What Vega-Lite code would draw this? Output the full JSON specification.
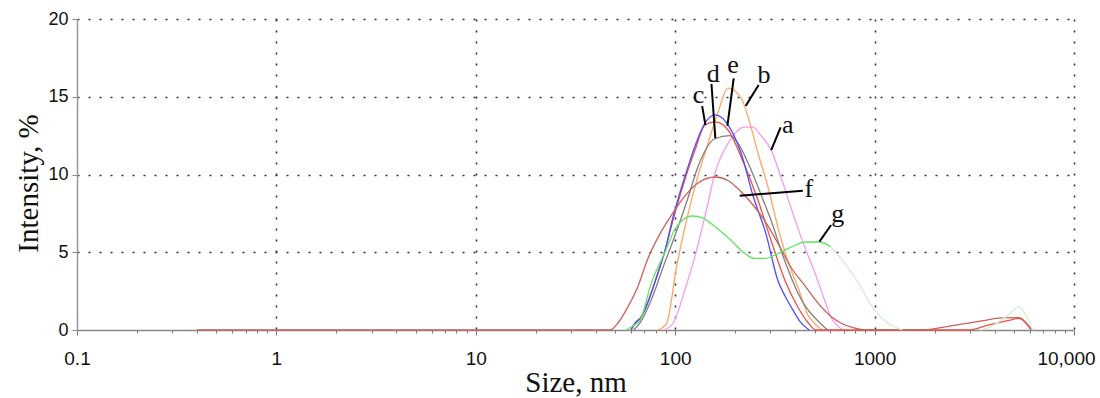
{
  "$schema": "https://vega.github.io/schema/vega-lite/v6.json",
  "width": 997,
  "height": 311,
  "autosize": {"type": "none"},
  "padding": {"left": 77, "top": 19, "right": 26, "bottom": 68},
  "background": "white",
  "config": {"view": {"stroke": null}},
  "datasets": {
    "curves": [
      {"sample": "a", "size": 88, "intensity": 0},
      {"sample": "a", "size": 97.7, "intensity": 0.45},
      {"sample": "a", "size": 112, "intensity": 2.6},
      {"sample": "a", "size": 126, "intensity": 4.8},
      {"sample": "a", "size": 141, "intensity": 7.3},
      {"sample": "a", "size": 160, "intensity": 10.3},
      {"sample": "a", "size": 184, "intensity": 12.0},
      {"sample": "a", "size": 205, "intensity": 12.8},
      {"sample": "a", "size": 219, "intensity": 13.05},
      {"sample": "a", "size": 245, "intensity": 13.05},
      {"sample": "a", "size": 269, "intensity": 12.5},
      {"sample": "a", "size": 302, "intensity": 11.6},
      {"sample": "a", "size": 339, "intensity": 9.84},
      {"sample": "a", "size": 380, "intensity": 7.9},
      {"sample": "a", "size": 447, "intensity": 5.3},
      {"sample": "a", "size": 501, "intensity": 3.7},
      {"sample": "a", "size": 562, "intensity": 1.9},
      {"sample": "a", "size": 603, "intensity": 0.84},
      {"sample": "a", "size": 650, "intensity": 0.3},
      {"sample": "a", "size": 692, "intensity": 0},

      {"sample": "b", "size": 82, "intensity": 0},
      {"sample": "b", "size": 90.6, "intensity": 0.43},
      {"sample": "b", "size": 101.6, "intensity": 4.07},
      {"sample": "b", "size": 114, "intensity": 7.07},
      {"sample": "b", "size": 130, "intensity": 9.9},
      {"sample": "b", "size": 146, "intensity": 12.0},
      {"sample": "b", "size": 164, "intensity": 14.0},
      {"sample": "b", "size": 184, "intensity": 15.56},
      {"sample": "b", "size": 214, "intensity": 14.92},
      {"sample": "b", "size": 240, "intensity": 13.05},
      {"sample": "b", "size": 260, "intensity": 11.38},
      {"sample": "b", "size": 292, "intensity": 9.2},
      {"sample": "b", "size": 316, "intensity": 7.4},
      {"sample": "b", "size": 327, "intensity": 6.62},
      {"sample": "b", "size": 366, "intensity": 4.5},
      {"sample": "b", "size": 385, "intensity": 3.7},
      {"sample": "b", "size": 412, "intensity": 2.77},
      {"sample": "b", "size": 462, "intensity": 1.0},
      {"sample": "b", "size": 501, "intensity": 0.4},
      {"sample": "b", "size": 549, "intensity": 0},

      {"sample": "c", "size": 60, "intensity": 0},
      {"sample": "c", "size": 63, "intensity": 0.45},
      {"sample": "c", "size": 67, "intensity": 0.8},
      {"sample": "c", "size": 82, "intensity": 3.7},
      {"sample": "c", "size": 88.4, "intensity": 5.0},
      {"sample": "c", "size": 97.7, "intensity": 7.1},
      {"sample": "c", "size": 116, "intensity": 10.3},
      {"sample": "c", "size": 126, "intensity": 11.6},
      {"sample": "c", "size": 141, "intensity": 13.18},
      {"sample": "c", "size": 158.5, "intensity": 13.38},
      {"sample": "c", "size": 184, "intensity": 12.86},
      {"sample": "c", "size": 221, "intensity": 10.7},
      {"sample": "c", "size": 260, "intensity": 8.36},
      {"sample": "c", "size": 302, "intensity": 5.79},
      {"sample": "c", "size": 355, "intensity": 3.2},
      {"sample": "c", "size": 412, "intensity": 1.48},
      {"sample": "c", "size": 462, "intensity": 0.5},
      {"sample": "c", "size": 507, "intensity": 0},
      {"sample": "c", "size": 2900, "intensity": 0},
      {"sample": "c", "size": 3800, "intensity": 0.35},
      {"sample": "c", "size": 4786, "intensity": 0.64},
      {"sample": "c", "size": 5300, "intensity": 0.75},
      {"sample": "c", "size": 6100, "intensity": 0},

      {"sample": "d", "size": 62, "intensity": 0},
      {"sample": "d", "size": 67, "intensity": 0.5},
      {"sample": "d", "size": 75.8, "intensity": 1.93},
      {"sample": "d", "size": 88.4, "intensity": 4.29},
      {"sample": "d", "size": 99.3, "intensity": 6.0},
      {"sample": "d", "size": 115, "intensity": 8.36},
      {"sample": "d", "size": 130, "intensity": 10.5},
      {"sample": "d", "size": 158, "intensity": 12.3},
      {"sample": "d", "size": 188, "intensity": 12.5},
      {"sample": "d", "size": 206, "intensity": 12.03},
      {"sample": "d", "size": 232, "intensity": 10.74},
      {"sample": "d", "size": 276, "intensity": 8.36},
      {"sample": "d", "size": 302, "intensity": 7.07},
      {"sample": "d", "size": 353, "intensity": 4.5},
      {"sample": "d", "size": 412, "intensity": 2.4},
      {"sample": "d", "size": 446, "intensity": 1.6},
      {"sample": "d", "size": 503, "intensity": 0.77},
      {"sample": "d", "size": 537, "intensity": 0.4},
      {"sample": "d", "size": 580, "intensity": 0},

      {"sample": "e", "size": 60, "intensity": 0},
      {"sample": "e", "size": 63, "intensity": 0.45},
      {"sample": "e", "size": 67, "intensity": 0.77},
      {"sample": "e", "size": 82, "intensity": 3.67},
      {"sample": "e", "size": 88.4, "intensity": 5.0},
      {"sample": "e", "size": 97.7, "intensity": 7.3},
      {"sample": "e", "size": 116, "intensity": 10.5},
      {"sample": "e", "size": 125.5, "intensity": 11.8},
      {"sample": "e", "size": 141, "intensity": 13.3},
      {"sample": "e", "size": 158.5, "intensity": 13.83},
      {"sample": "e", "size": 188, "intensity": 13.0},
      {"sample": "e", "size": 214, "intensity": 11.38},
      {"sample": "e", "size": 246, "intensity": 8.6},
      {"sample": "e", "size": 285, "intensity": 6.2},
      {"sample": "e", "size": 327, "intensity": 3.2},
      {"sample": "e", "size": 355, "intensity": 2.2},
      {"sample": "e", "size": 397, "intensity": 1.1},
      {"sample": "e", "size": 425, "intensity": 0.5},
      {"sample": "e", "size": 470, "intensity": 0},

      {"sample": "f", "size": 0.4, "intensity": 0},
      {"sample": "f", "size": 47, "intensity": 0},
      {"sample": "f", "size": 52, "intensity": 0.5},
      {"sample": "f", "size": 58, "intensity": 1.5},
      {"sample": "f", "size": 65, "intensity": 2.8},
      {"sample": "f", "size": 73, "intensity": 4.6},
      {"sample": "f", "size": 84, "intensity": 6.2},
      {"sample": "f", "size": 96, "intensity": 7.4},
      {"sample": "f", "size": 110, "intensity": 8.5},
      {"sample": "f", "size": 130, "intensity": 9.45},
      {"sample": "f", "size": 158.5, "intensity": 9.84},
      {"sample": "f", "size": 185, "intensity": 9.6},
      {"sample": "f", "size": 206, "intensity": 9.1},
      {"sample": "f", "size": 240, "intensity": 8.2},
      {"sample": "f", "size": 282, "intensity": 7.0},
      {"sample": "f", "size": 330, "intensity": 5.5},
      {"sample": "f", "size": 380, "intensity": 4.05},
      {"sample": "f", "size": 450, "intensity": 2.8},
      {"sample": "f", "size": 519, "intensity": 1.74},
      {"sample": "f", "size": 600, "intensity": 0.9},
      {"sample": "f", "size": 676, "intensity": 0.45},
      {"sample": "f", "size": 780, "intensity": 0.15},
      {"sample": "f", "size": 891, "intensity": 0},
      {"sample": "f", "size": 1700, "intensity": 0},
      {"sample": "f", "size": 2500, "intensity": 0.3},
      {"sample": "f", "size": 3500, "intensity": 0.6},
      {"sample": "f", "size": 4300, "intensity": 0.78},
      {"sample": "f", "size": 5300, "intensity": 0.8},
      {"sample": "f", "size": 5900, "intensity": 0.3},
      {"sample": "f", "size": 6200, "intensity": 0},

      {"sample": "g", "size": 57, "intensity": 0},
      {"sample": "g", "size": 62, "intensity": 0.3},
      {"sample": "g", "size": 66.8, "intensity": 0.64},
      {"sample": "g", "size": 75.8, "intensity": 3.0},
      {"sample": "g", "size": 88.4, "intensity": 4.93},
      {"sample": "g", "size": 99.3, "intensity": 6.43},
      {"sample": "g", "size": 110, "intensity": 7.1},
      {"sample": "g", "size": 121, "intensity": 7.33},
      {"sample": "g", "size": 135, "intensity": 7.25},
      {"sample": "g", "size": 158.5, "intensity": 6.64},
      {"sample": "g", "size": 190, "intensity": 5.79},
      {"sample": "g", "size": 223, "intensity": 4.93},
      {"sample": "g", "size": 250, "intensity": 4.6},
      {"sample": "g", "size": 282, "intensity": 4.6},
      {"sample": "g", "size": 320, "intensity": 4.85},
      {"sample": "g", "size": 355, "intensity": 5.14},
      {"sample": "g", "size": 400, "intensity": 5.45},
      {"sample": "g", "size": 447, "intensity": 5.66},
      {"sample": "g", "size": 531, "intensity": 5.66},
      {"sample": "g", "size": 603, "intensity": 5.34},

      {"sample": "g2", "size": 603, "intensity": 5.34},
      {"sample": "g2", "size": 708, "intensity": 4.3},
      {"sample": "g2", "size": 813, "intensity": 3.2},
      {"sample": "g2", "size": 1000, "intensity": 1.29},
      {"sample": "g2", "size": 1161, "intensity": 0.45},
      {"sample": "g2", "size": 1380, "intensity": 0},

      {"sample": "g3", "size": 3400, "intensity": 0},
      {"sample": "g3", "size": 3800, "intensity": 0.2},
      {"sample": "g3", "size": 4677, "intensity": 0.96},
      {"sample": "g3", "size": 5297, "intensity": 1.48},
      {"sample": "g3", "size": 5800, "intensity": 0.84},
      {"sample": "g3", "size": 6200, "intensity": 0}
    ],
    "labels": [
      {"label": "a", "size": 367, "intensity": 12.67},
      {"label": "b", "size": 278.6, "intensity": 15.88},
      {"label": "c", "size": 131, "intensity": 14.6},
      {"label": "d", "size": 155, "intensity": 15.95},
      {"label": "e", "size": 195, "intensity": 16.53},
      {"label": "f", "size": 468, "intensity": 8.55},
      {"label": "g", "size": 653, "intensity": 6.95}
    ],
    "leaders": [
      {"label": "a", "size": 337.8, "intensity": 13.03, "size2": 303, "intensity2": 11.57},
      {"label": "b", "size": 262, "intensity": 15.76, "size2": 225.6, "intensity2": 14.4},
      {"label": "c", "size": 136.5, "intensity": 14.4, "size2": 141.8, "intensity2": 13.18},
      {"label": "d", "size": 152, "intensity": 15.82, "size2": 159, "intensity2": 12.33},
      {"label": "e", "size": 196.5, "intensity": 16.18, "size2": 182.7, "intensity2": 13.12},
      {"label": "f", "size": 436.5, "intensity": 8.96, "size2": 210.5, "intensity2": 8.64},
      {"label": "g", "size": 605, "intensity": 6.75, "size2": 529, "intensity2": 5.68}
    ]
  },
  "layer": [
    {
      "data": {"name": "curves"},
      "mark": {"type": "line", "strokeWidth": 1.3, "interpolate": "monotone"},
      "encoding": {
        "x": {
          "field": "size", "type": "quantitative",
          "scale": {"type": "log", "domain": [0.1, 10000], "nice": false},
          "axis": {
            "title": "Size, nm",
            "titleFont": "Liberation Serif", "titleFontSize": 29, "titleFontWeight": "normal", "titleColor": "#111",
            "titleBaseline": "alphabetic", "titleY": 61,
            "values": [0.1,0.2,0.3,0.4,0.5,0.6,0.7,0.8,0.9,1,2,3,4,5,6,7,8,9,10,20,30,40,50,60,70,80,90,100,200,300,400,500,600,700,800,900,1000,2000,3000,4000,5000,6000,7000,8000,9000,10000],
            "labelExpr": "abs(log(datum.value)/LN10 - round(log(datum.value)/LN10)) < 0.001 ? (datum.value >= 9999 ? '10,000' : datum.value < 0.5 ? '0.1' : format(datum.value, 'd')) : ''",
            "labelOverlap": false, "labelFlush": false,
            "labelOffset": {"condition": {"test": "datum.value >= 9999", "value": -8}, "value": 0},
            "labelFont": "Liberation Sans", "labelFontSize": 19, "labelColor": "#111", "labelPadding": 14,
            "domainColor": "#888", "domainWidth": 1.5,
            "tickColor": "#777", "tickWidth": 1,
            "tickSize": {"condition": {"test": "abs(log(datum.value)/LN10 - round(log(datum.value)/LN10)) < 0.001", "value": 5}, "value": 3},
            "grid": true, "gridColor": "#333", "gridWidth": 1.6, "gridDash": [2, 9],
            "gridOpacity": {"condition": {"test": "abs(log(datum.value)/LN10 - round(log(datum.value)/LN10)) < 0.001 && datum.value > 0.5", "value": 1}, "value": 0}
          }
        },
        "y": {
          "field": "intensity", "type": "quantitative",
          "scale": {"domain": [0, 20], "nice": false},
          "axis": {
            "title": "Intensity, %",
            "titleFont": "Liberation Serif", "titleFontSize": 29, "titleFontWeight": "normal", "titleColor": "#111",
            "titleBaseline": "alphabetic", "titleX": -40, "titleY": 164, "titleAngle": -90,
            "values": [0, 2.5, 5, 7.5, 10, 12.5, 15, 17.5, 20],
            "labelExpr": "datum.value % 5 == 0 ? format(datum.value, 'd') : ''",
            "labelFont": "Liberation Sans", "labelFontSize": 18, "labelColor": "#111", "labelPadding": 4,
            "domainColor": "#999", "domainWidth": 1.5,
            "tickColor": "#888", "tickWidth": 1,
            "tickSize": {"condition": {"test": "datum.value % 5 == 0", "value": 5}, "value": 4},
            "grid": true, "gridColor": "#333", "gridWidth": 1.6, "gridDash": [2, 9],
            "gridOpacity": {"condition": {"test": "datum.value % 5 == 0 && datum.value > 0", "value": 1}, "value": 0}
          }
        },
        "color": {
          "field": "sample", "type": "nominal", "legend": null,
          "scale": {
            "domain": ["a", "b", "c", "d", "e", "f", "g", "g2", "g3"],
            "range": ["#f59bf0", "#ffa463", "#ee5048", "#808080", "#4d4dff", "#c8625a", "#5ee65e", "#d3efd3", "#d3efd3"]
          }
        }
      }
    },
    {
      "data": {"name": "leaders"},
      "mark": {"type": "rule", "color": "black", "strokeWidth": 2},
      "encoding": {
        "x": {"field": "size", "type": "quantitative"},
        "y": {"field": "intensity", "type": "quantitative"},
        "x2": {"field": "size2"},
        "y2": {"field": "intensity2"}
      }
    },
    {
      "data": {"name": "labels"},
      "mark": {"type": "text", "font": "Liberation Serif", "fontSize": 26, "color": "#111", "align": "center", "baseline": "alphabetic"},
      "encoding": {
        "x": {"field": "size", "type": "quantitative"},
        "y": {"field": "intensity", "type": "quantitative"},
        "text": {"field": "label"}
      }
    }
  ]
}
